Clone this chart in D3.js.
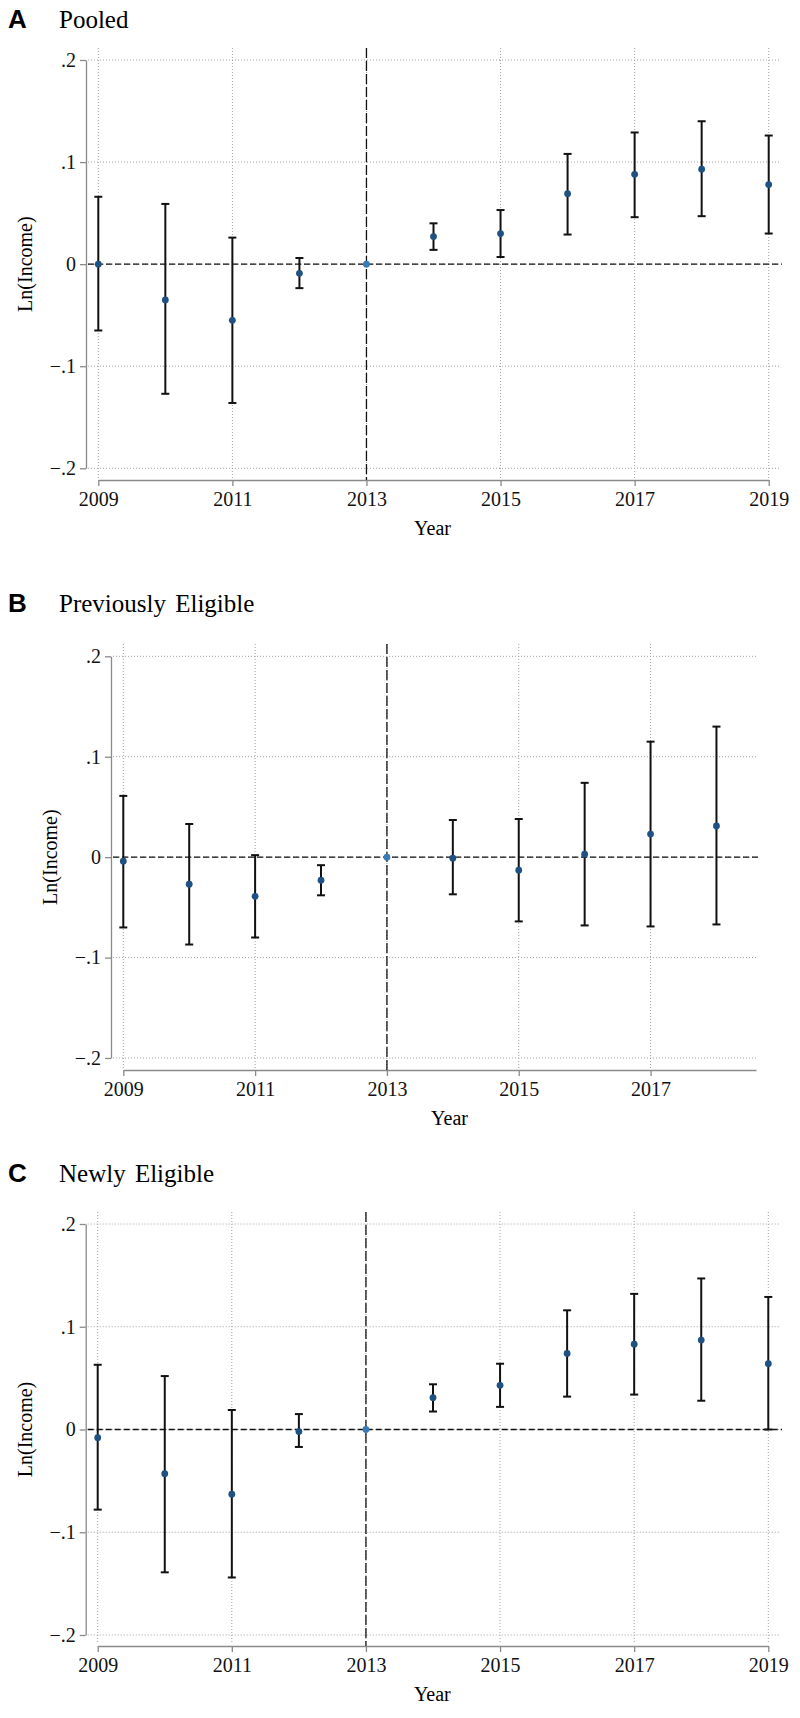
<!DOCTYPE html>
<html>
<head>
<meta charset="utf-8">
<script src="https://cdn.jsdelivr.net/npm/d3@7"></script>
<style>
  body { margin: 0; background: #fff; }
  svg { display: block; }
  .tick text { font-family: 'Liberation Serif', 'Times New Roman', serif; }
</style>
</head>
<body>
<div id="chart"></div>
<script>
const WIDTH = 800;
const HEIGHT = 1718;

// years on the x axis
const years = [2009, 2010, 2011, 2012, 2013, 2014, 2015, 2016, 2017, 2018, 2019];
const prevYears = [2009, 2010, 2011, 2012, 2013, 2014, 2015, 2016, 2017, 2018];

// A - pooled
const pooledEst = [0.000, -0.035, -0.055, -0.009, 0, 0.027, 0.030, 0.069, 0.088, 0.093, 0.078];
const pooledLo  = [-0.065, -0.127, -0.136, -0.0235, 0, 0.014, 0.007, 0.029, 0.046, 0.047, 0.030];
const pooledHi  = [0.066, 0.059, 0.026, 0.006, 0, 0.040, 0.053, 0.108, 0.129, 0.140, 0.126];

// B - previously eligible
const prevEst = [-0.004, -0.027, -0.039, -0.023, 0, -0.001, -0.013, 0.003, 0.023, 0.031];
const prevLo  = [-0.070, -0.087, -0.080, -0.038, 0, -0.037, -0.064, -0.068, -0.069, -0.067];
const prevHi  = [0.061, 0.033, 0.002, -0.008, 0, 0.037, 0.038, 0.074, 0.115, 0.130];

// C - newly eligible
const newEst = [-0.008, -0.043, -0.063, -0.002, 0, 0.031, 0.043, 0.074, 0.083, 0.087, 0.064];
const newLo  = [-0.078, -0.139, -0.144, -0.017, 0, 0.0175, 0.022, 0.032, 0.034, 0.028, 0.000];
const newHi  = [0.063, 0.052, 0.019, 0.015, 0, 0.044, 0.064, 0.116, 0.132, 0.147, 0.129];

const yTicks = [-0.2, -0.1, 0, 0.1, 0.2];
const yTickLabels = ["\u2212.2", "\u2212.1", "0", ".1", ".2"];
const xTicks = [2009, 2011, 2013, 2015, 2017, 2019];
const eventYear = 2013;

const SERIF = "'Liberation Serif', 'Times New Roman', serif";
const SANS = "'Liberation Sans', Arial, sans-serif";
const DOT = "#1f5283";

const panels = [
  {letter: "A", title: "Pooled", yrs: years, est: pooledEst, lo: pooledLo, hi: pooledHi,
   xMax: 2019, titleY: 28, axisLeft: 86, x0: 98.3, x1: 768.7,
   yTop: 60, yBot: 468.3, axisBottom: 480, regionTop: 48, regionRight: 779},
  {letter: "B", title: "Previously Eligible", yrs: prevYears, est: prevEst, lo: prevLo, hi: prevHi,
   xMax: 2018.6, titleY: 611.7, axisLeft: 111, x0: 123.3, x1: 756,
   yTop: 656.3, yBot: 1058, axisBottom: 1070, regionTop: 644, regionRight: 756},
  {letter: "C", title: "Newly Eligible", yrs: years, est: newEst, lo: newLo, hi: newHi,
   xMax: 2019, titleY: 1181.7, axisLeft: 85.7, x0: 97.7, x1: 768.3,
   yTop: 1224, yBot: 1635, axisBottom: 1646, regionTop: 1212, regionRight: 779}
];

const svg = d3.select("#chart")
  .append("svg")
    .attr("width", WIDTH)
    .attr("height", HEIGHT);

panels.forEach((p) => {
  const g = svg.append("g");

  const x = d3.scaleLinear().domain([2009, p.xMax]).range([p.x0, p.x1]);
  const y = d3.scaleLinear().domain([-0.2, 0.2]).range([p.yBot, p.yTop]);

  // panel heading
  g.append("text")
    .attr("x", 8).attr("y", p.titleY)
    .style("font-family", SANS).style("font-weight", "bold").style("font-size", "26px")
    .text(p.letter);
  g.append("text")
    .attr("x", 59).attr("y", p.titleY)
    .style("font-family", SERIF).style("font-size", "25px")
    .style("word-spacing", "3px")
    .text(p.title);

  // grid lines
  const xGrid = xTicks.filter((t) => t <= p.xMax);
  g.append("g").selectAll("line")
    .data(yTicks)
    .enter().append("line")
      .attr("x1", p.axisLeft + 2).attr("x2", p.regionRight)
      .attr("y1", (d) => y(d)).attr("y2", (d) => y(d))
      .attr("stroke", "#a0a0a0").attr("stroke-width", 1)
      .attr("stroke-dasharray", "1,2");
  g.append("g").selectAll("line")
    .data(xGrid)
    .enter().append("line")
      .attr("x1", (d) => x(d)).attr("x2", (d) => x(d))
      .attr("y1", p.regionTop).attr("y2", p.axisBottom - 2)
      .attr("stroke", "#a0a0a0").attr("stroke-width", 1)
      .attr("stroke-dasharray", "1,2");

  // y axis
  const yAxis = g.append("g")
    .attr("transform", "translate(" + p.axisLeft + ",0)")
    .call(d3.axisLeft(y).tickValues(yTicks).tickSizeInner(6).tickSizeOuter(0).tickPadding(4)
      .tickFormat((d, i) => yTickLabels[i]));
  // x axis
  const xAxis = g.append("g")
    .attr("transform", "translate(0," + p.axisBottom + ")")
    .call(d3.axisBottom(x).tickValues(xGrid).tickSizeInner(6).tickSizeOuter(0).tickPadding(6)
      .tickFormat(d3.format("d")));

  [yAxis, xAxis].forEach((a) => {
    a.attr("font-family", SERIF).attr("font-size", 20);
    a.select(".domain").attr("stroke", "#8a8a8a").attr("stroke-width", 1.3);
    a.selectAll(".tick line").attr("stroke", "#8a8a8a").attr("stroke-width", 1.3);
    a.selectAll("text")
      .style("font-family", SERIF).style("font-size", "20px").attr("fill", "#111");
  });

  // axis titles
  g.append("text")
    .attr("transform", "translate(" + (p.axisLeft - 61) + "," + y(0) + ") rotate(-90)")
    .attr("text-anchor", "middle").attr("dy", "0.35em")
    .style("font-family", SERIF).style("font-size", "20px")
    .text("Ln(Income)");
  g.append("text")
    .attr("x", (p.axisLeft + p.regionRight) / 2 + (p.letter == "B" ? 16 : 0))
    .attr("y", p.axisBottom + 55)
    .attr("text-anchor", "middle")
    .style("font-family", SERIF).style("font-size", "20px")
    .text("Year");

  // reference lines
  g.append("line")
    .attr("x1", p.axisLeft + 2).attr("x2", p.regionRight + 3)
    .attr("y1", y(0)).attr("y2", y(0))
    .attr("stroke", "#111").attr("stroke-width", 1.3)
    .attr("stroke-dasharray", "6,3");
  g.append("line")
    .attr("x1", x(eventYear)).attr("x2", x(eventYear))
    .attr("y1", p.regionTop).attr("y2", p.axisBottom)
    .attr("stroke", "#111").attr("stroke-width", 1.3)
    .attr("stroke-dasharray", "10,3");

  // confidence intervals
  const rows = p.yrs.map((yr, i) => ({year: yr, est: p.est[i], lo: p.lo[i], hi: p.hi[i]}))
  const ci = rows.filter((d) => d.hi > d.lo);
  const bars = g.append("g").attr("stroke", "#111").attr("stroke-width", 2);
  bars.selectAll(".stem").data(ci).enter().append("line")
    .attr("x1", (d) => x(d.year)).attr("x2", (d) => x(d.year))
    .attr("y1", (d) => y(d.lo)).attr("y2", (d) => y(d.hi));
  bars.selectAll(".capHi").data(ci).enter().append("line")
    .attr("x1", (d) => x(d.year) - 4).attr("x2", (d) => x(d.year) + 4)
    .attr("y1", (d) => y(d.hi)).attr("y2", (d) => y(d.hi));
  bars.selectAll(".capLo").data(ci).enter().append("line")
    .attr("x1", (d) => x(d.year) - 4).attr("x2", (d) => x(d.year) + 4)
    .attr("y1", (d) => y(d.lo)).attr("y2", (d) => y(d.lo));

  // point estimates
  g.append("g").selectAll("circle")
    .data(rows)
    .enter().append("circle")
      .attr("cx", (d) => x(d.year))
      .attr("cy", (d) => y(d.est))
      .attr("r", 3.4)
      .style("fill", (d) => d.year == eventYear ? "#3a7ab5" : DOT);
});
</script>
</body>
</html>
